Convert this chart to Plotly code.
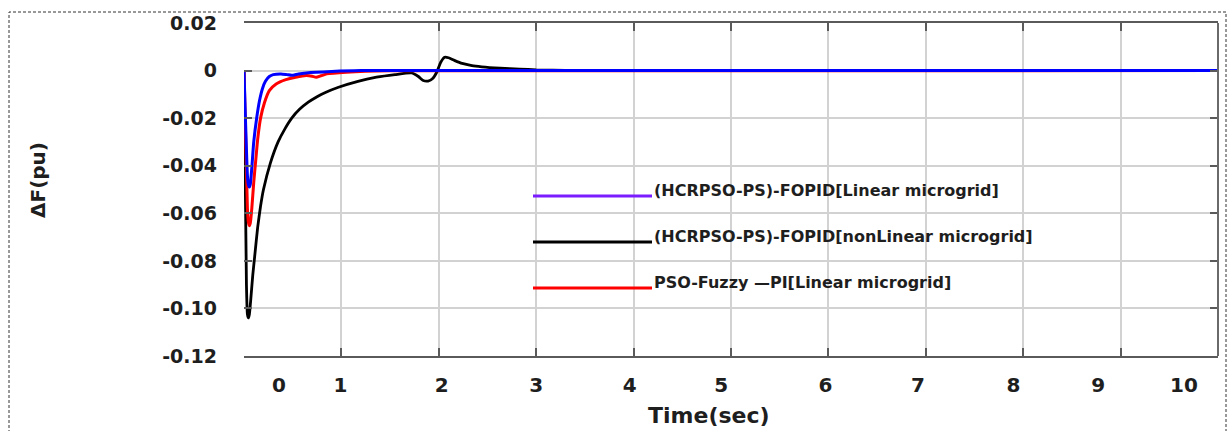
import plotly.graph_objects as go

# ---------------- data ----------------
t_blue = [0, 0.035, 0.045, 0.055, 0.065, 0.08, 0.10, 0.13, 0.16, 0.19, 0.22, 0.26, 0.30, 0.38, 0.44, 0.49, 0.56, 0.64, 0.90, 1.20, 10]
f_blue = [0, -0.044, -0.0480, -0.0490, -0.0478, -0.041, -0.030, -0.020, -0.0125, -0.0075, -0.0045, -0.0025, -0.0017,
          -0.0014, -0.0017, -0.0020, -0.0014, -0.0010, -0.0004, 0, 0]

t_red = [0, 0.035, 0.045, 0.055, 0.065, 0.08, 0.10, 0.12, 0.14, 0.17, 0.21, 0.26, 0.33, 0.43, 0.53, 0.64, 0.70, 0.74,
         0.79, 0.85, 1.05, 1.50, 10]
f_red = [0, -0.058, -0.0638, -0.0652, -0.0640, -0.058, -0.0470, -0.038, -0.029, -0.020, -0.0135, -0.0084, -0.0056,
         -0.0038, -0.0028, -0.0021, -0.0024, -0.0028, -0.0022, -0.0014, -0.0007, -0.0001, 0]

t_black = [0, 0.025, 0.035, 0.045, 0.055, 0.07, 0.09, 0.11, 0.14, 0.17, 0.20, 0.27, 0.35, 0.42, 0.49, 0.57, 0.66, 0.75,
           0.83, 0.97, 1.17, 1.36, 1.55, 1.72, 1.79, 1.84, 1.89, 1.94, 1.98, 2.02, 2.06, 2.10, 2.16, 2.24, 2.34, 2.44,
           2.63, 2.83, 3.0, 3.3, 10]
f_black = [0, -0.090, -0.1025, -0.1040, -0.1025, -0.096, -0.086, -0.078, -0.066, -0.057, -0.050, -0.039, -0.030,
           -0.0245, -0.0200, -0.0163, -0.0133, -0.0110, -0.0093, -0.0070, -0.0045, -0.0028, -0.0017, -0.0010,
           -0.0025, -0.0042, -0.0044, -0.0032, -0.0006, 0.0035, 0.0056, 0.0054, 0.0043, 0.0030, 0.0021, 0.0016,
           0.0010, 0.0006, 0.0003, 0.0001, 0]

series_names = ["(HCRPSO-PS)-FOPID[Linear microgrid]",
                "(HCRPSO-PS)-FOPID[nonLinear microgrid]",
                "PSO-Fuzzy —PI[Linear microgrid]"]

y_ticks = [0.02, 0, -0.02, -0.04, -0.06, -0.08, -0.10, -0.12]
y_tick_text = ["0.02", "0", "-0.02", "-0.04", "-0.06", "-0.08", "-0.10", "-0.12"]
x_grid = [1, 2, 3, 4, 5, 6, 7, 8, 9]
x_tick_text = ["0", "1", "2", "3", "4", "5", "6", "7", "8", "9", "10"]
x_tick_at = [0.36, 0.99, 2.03, 3.00, 3.96, 4.90, 5.97, 6.92, 7.90, 8.77, 9.65]

# ---------------- layout geometry ----------------
W, H = 1230, 431
L, R, T, B = 244, 1218, 23, 356


def px_x(px):
    return (px - L) / (R - L)


def px_y(py):
    return (B - py) / (B - T)


fig = go.Figure()
fig.add_trace(go.Scatter(x=t_black, y=f_black, mode="lines",
                         line=dict(color="#000000", width=2.8, shape="spline", smoothing=0.5),
                         name=series_names[1], showlegend=False))
fig.add_trace(go.Scatter(x=t_red, y=f_red, mode="lines",
                         line=dict(color="#ff0000", width=3, shape="spline", smoothing=0.5),
                         name=series_names[2], showlegend=False))
fig.add_trace(go.Scatter(x=t_blue, y=f_blue, mode="lines",
                         line=dict(color="#0000ff", width=3, shape="spline", smoothing=0.5),
                         name=series_names[0], showlegend=False, xaxis="x2"))

txt = "#1e1e1e"
tickfont = dict(family="DejaVu Sans", size=19, color=txt, weight="bold")

fig.update_layout(
    width=W, height=H,
    margin=dict(l=L, r=W - R, t=T, b=H - B),
    paper_bgcolor="white", plot_bgcolor="white",
    showlegend=False,
    xaxis=dict(range=[0, 10], tickvals=x_grid, showticklabels=False,
               showgrid=True, gridcolor="#d2d2d2", gridwidth=1.5,
               showline=True, linecolor="#5a5a5a", linewidth=2, mirror="ticks",
               ticks="inside", ticklen=8, tickcolor="#5a5a5a", tickwidth=1.5, zeroline=False),
    xaxis2=dict(range=[0, 10], overlaying="x", anchor="y", side="bottom",
                tickvals=x_tick_at, ticktext=x_tick_text, showgrid=False, showline=False,
                ticks="", zeroline=False, tickfont=dict(family="DejaVu Sans", size=20, color=txt, weight="bold"),
                ticklabelstandoff=15),
    yaxis=dict(range=[-0.12, 0.02], tickvals=y_ticks, ticktext=y_tick_text,
               showgrid=True, gridcolor="#d2d2d2", gridwidth=1.5, zeroline=False,
               showline=False, mirror="ticks", ticks="inside", ticklen=8, tickcolor="#5a5a5a", tickwidth=1.5,
               tickfont=tickfont, ticklabelstandoff=26),
)

# right frame line
fig.add_shape(type="line", xref="paper", yref="paper", x0=1, x1=1, y0=0, y1=1,
              line=dict(color="#6a6a6a", width=2))

# dashed page border
fig.add_shape(type="rect", xref="paper", yref="paper", x0=px_x(9), x1=px_x(1226), y0=px_y(445), y1=px_y(12),
              line=dict(color="#333333", width=1, dash="3px,2px"), layer="below")

# legend drawn as lines + text
legend_colors = ["#7a1cff", "#000000", "#ff0000"]
legend_line_y = [196, 242, 288]
for name, col, ly in zip(series_names, legend_colors, legend_line_y):
    fig.add_shape(type="line", xref="paper", yref="paper", x0=px_x(533), x1=px_x(652), y0=px_y(ly), y1=px_y(ly),
                  line=dict(color=col, width=3))
    fig.add_annotation(xref="paper", yref="paper", x=px_x(652), y=px_y(ly - 6), text=name, showarrow=False,
                       xanchor="left", yanchor="middle",
                       font=dict(family="DejaVu Sans", size=16, color=txt, weight="bold"))

# axis titles
fig.add_annotation(xref="paper", yref="paper", x=px_x(709), y=px_y(415), text="Time(sec)", showarrow=False,
                   xanchor="center", yanchor="middle",
                   font=dict(family="DejaVu Sans", size=22, color=txt, weight="bold"))
fig.add_annotation(xref="paper", yref="paper", x=px_x(38), y=px_y(180), text="ΔF(pu)", showarrow=False,
                   textangle=-90, xanchor="center", yanchor="middle",
                   font=dict(family="DejaVu Sans", size=20, color=txt, weight="bold"))

fig.write_html("out.html")
